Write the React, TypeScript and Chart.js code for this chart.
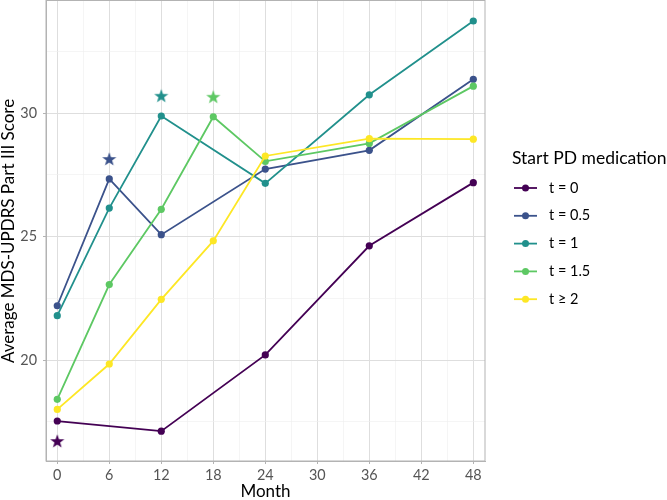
import React, { useEffect, useRef } from 'react';
import { Chart, registerables } from 'chart.js';

Chart.register(...registerables);

// data
const months = [0, 6, 12, 18, 24, 36, 48];
const groupLabels = ['t = 0', 't = 0.5', 't = 1', 't = 1.5', 't \u2265 2'];
const groupColors = ['#440154', '#3B528B', '#21908C', '#5DC863', '#FDE725'];
const t0 = [17.53, null, 17.12, null, 20.21, 24.63, 27.19];
const t05 = [22.2, 27.34, 25.08, null, 27.74, 28.5, 31.38];
const t1 = [21.8, 26.16, 29.89, null, 27.16, 30.75, 33.74];
const t15 = [18.41, 23.06, 26.11, 29.86, 28.05, 28.78, 31.1];
const t2 = [18.0, 19.84, 22.46, 24.83, 28.27, 28.97, 28.95];
const seriesValues = [t0, t05, t1, t15, t2];

// stars marking start month for first four groups
const starMonths = [0, 6, 12, 18];
const starValues = [16.72, 28.15, 30.71, 30.67];

const xTicks = [0, 3, 6, 9, 12, 15, 18, 21, 24, 27, 30, 33, 36, 39, 42, 45, 48];
const xLabelTicks = [0, 6, 12, 18, 24, 30, 36, 42, 48];
const yTicks = [17.5, 20, 22.5, 25, 27.5, 30, 32.5];
const yLabelTicks = [20, 25, 30];

const FONT = 'Lato, "Open Sans", sans-serif';

function makeStar(color: string) {
  const c = document.createElement('canvas');
  c.width = 16;
  c.height = 16;
  const g = c.getContext('2d')!;
  g.fillStyle = color;
  g.beginPath();
  for (let i = 0; i < 10; i++) {
    const r = i % 2 === 0 ? 7.4 : 3.0;
    const a = -Math.PI / 2 + (i * Math.PI) / 5;
    const px = 8 + r * Math.cos(a);
    const py = 8.6 + r * Math.sin(a);
    if (i === 0) g.moveTo(px, py);
    else g.lineTo(px, py);
  }
  g.closePath();
  g.fill();
  return c;
}

const frameAndLegend = {
  id: 'frameAndLegend',
  afterDraw(chart: any) {
    const { ctx, chartArea } = chart;
    ctx.save();
    ctx.strokeStyle = '#B3B3B3';
    ctx.lineWidth = 1;
    ctx.strokeRect(chartArea.left, chartArea.top - 0.5, chartArea.right - chartArea.left, chartArea.bottom - chartArea.top + 0.5);

    // legend
    const cy = (chartArea.top + chartArea.bottom) / 2;
    const lx = chartArea.right + 27;
    ctx.fillStyle = '#000';
    ctx.font = `17.5px ${FONT}`;
    ctx.textBaseline = 'middle';
    ctx.textAlign = 'left';
    ctx.fillText('Start PD medication', lx, cy - 73);
    groupLabels.forEach((lab, i) => {
      const y = cy - 43 + i * 27.8;
      ctx.strokeStyle = groupColors[i];
      ctx.lineWidth = 1.8;
      ctx.beginPath();
      ctx.moveTo(lx + 2, y);
      ctx.lineTo(lx + 25, y);
      ctx.stroke();
      ctx.fillStyle = groupColors[i];
      ctx.beginPath();
      ctx.arc(lx + 13.5, y, 3.5, 0, Math.PI * 2);
      ctx.fill();
      ctx.fillStyle = '#000';
      ctx.font = `14.5px ${FONT}`;
      ctx.fillText(lab, lx + 37, y);
    });
    ctx.restore();
  },
};

const App: React.FC = () => {
  const canvasRef = useRef<HTMLCanvasElement>(null);

  useEffect(() => {
    document.body.style.margin = '0';
    if (!canvasRef.current) return;

    const lineSets = seriesValues.map((vals, i) => ({
      type: 'line' as const,
      label: groupLabels[i],
      data: months
        .map((m, j) => ({ x: m, y: vals[j] }))
        .filter((p) => p.y !== null),
      borderColor: groupColors[i],
      backgroundColor: groupColors[i],
      borderWidth: 1.8,
      pointRadius: 3.6,
      pointBorderWidth: 0,
      pointHoverRadius: 3.6,
      order: 10 - i,
    }));

    const starSets = starMonths.map((m, i) => ({
      type: 'scatter' as const,
      label: 'star ' + groupLabels[i],
      data: [{ x: m, y: starValues[i] }],
      pointStyle: makeStar(groupColors[i]),
      showLine: false,
      order: 0,
    }));

    const chart = new Chart(canvasRef.current, {
      type: 'line',
      data: { datasets: [...lineSets, ...starSets] as any },
      options: {
        responsive: false,
        animation: false,
        layout: { autoPadding: false, padding: { top: 1, right: 182, left: 0, bottom: 0 } },
        plugins: { legend: { display: false }, tooltip: { enabled: false } },
        scales: {
          x: {
            type: 'linear',
            min: -1.3,
            max: 49.35,
            afterBuildTicks: (scale: any) => {
              scale.ticks = xTicks.map((v) => ({ value: v }));
            },
            afterFit: (scale: any) => {
              scale.height = 39;
              scale.paddingLeft = 0;
              scale.paddingRight = 0;
            },
            border: { display: true, color: '#B3B3B3', width: 1 },
            grid: {
              color: (c: any) => (xLabelTicks.includes(c.tick?.value) ? '#DEDEDE' : '#EEEEEE'),
              lineWidth: (c: any) => (xLabelTicks.includes(c.tick?.value) ? 1 : 0.6),
              tickColor: (c: any) => (xLabelTicks.includes(c.tick?.value) ? '#B3B3B3' : 'rgba(0,0,0,0)'),
              tickLength: 3,
            },
            ticks: {
              autoSkip: false,
              maxRotation: 0,
              padding: 3,
              color: '#555',
              font: { family: FONT, size: 14.4 },
              callback: (v: any) => (xLabelTicks.includes(v) ? String(v) : ''),
            },
            title: {
              display: true,
              text: 'Month',
              color: '#000',
              font: { family: FONT, size: 17, lineHeight: 1 },
              padding: { top: 0, bottom: 0 },
            },
          },
          y: {
            type: 'linear',
            min: 15.91,
            max: 34.55,
            afterBuildTicks: (scale: any) => {
              scale.ticks = yTicks.map((v) => ({ value: v }));
            },
            afterFit: (scale: any) => {
              scale.width = 46;
              scale.paddingTop = 0;
              scale.paddingBottom = 0;
            },
            border: { display: true, color: '#B3B3B3', width: 1 },
            grid: {
              color: (c: any) => (yLabelTicks.includes(c.tick?.value) ? '#DEDEDE' : '#EEEEEE'),
              lineWidth: (c: any) => (yLabelTicks.includes(c.tick?.value) ? 1 : 0.6),
              tickColor: (c: any) => (yLabelTicks.includes(c.tick?.value) ? '#B3B3B3' : 'rgba(0,0,0,0)'),
              tickLength: 3,
            },
            ticks: {
              autoSkip: false,
              padding: 6,
              color: '#555',
              font: { family: FONT, size: 14.4, lineHeight: 0.01 },
              callback: (v: any) => (yLabelTicks.includes(v) ? String(v) : ''),
            },
            title: {
              display: true,
              text: 'Average MDS-UPDRS Part III Score',
              color: '#000',
              font: { family: FONT, size: 17, lineHeight: 1 },
              padding: { top: 0, bottom: 0 },
            },
          },
        },
      },
      plugins: [frameAndLegend],
    });
    return () => chart.destroy();
  }, []);

  return (
    <div style={{ position: 'absolute', left: 0, top: 0, width: 667, height: 500 }}>
      <canvas ref={canvasRef} width={667} height={500} style={{ display: 'block' }} />
    </div>
  );
};

export default App;
